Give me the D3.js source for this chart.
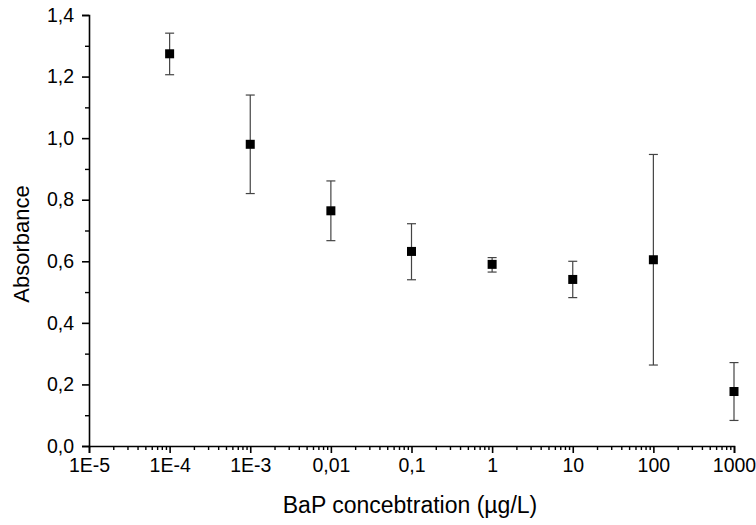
<!DOCTYPE html>
<html>
<head>
<meta charset="utf-8">
<script src="https://cdn.jsdelivr.net/npm/d3@7"></script>
<style>
  html, body { margin: 0; padding: 0; background: #fff; }
  svg { display: block; }
  text { font-family: "Liberation Sans", Arial, sans-serif; fill: #000; }
</style>
</head>
<body>
<svg id="chart" width="756" height="525"></svg>
<script>
// Data
const concentrations = [1e-4, 1e-3, 1e-2, 1e-1, 1, 10, 100, 1000];
const absorbance     = [1.274, 0.980, 0.764, 0.632, 0.590, 0.541, 0.605, 0.177];
const errUpper       = [1.341, 1.140, 0.861, 0.722, 0.612, 0.600, 0.947, 0.271];
const errLower       = [1.206, 0.820, 0.667, 0.540, 0.565, 0.482, 0.263, 0.083];
const xTickValues    = [1e-5, 1e-4, 1e-3, 1e-2, 1e-1, 1, 10, 100, 1000];
const xTickLabels    = ["1E-5", "1E-4", "1E-3", "0,01", "0,1", "1", "10", "100", "1000"];
const yTickValues    = [0, 0.2, 0.4, 0.6, 0.8, 1.0, 1.2, 1.4];
const yTickLabels    = ["0,0", "0,2", "0,4", "0,6", "0,8", "1,0", "1,2", "1,4"];
const yMinorValues   = [0.1, 0.3, 0.5, 0.7, 0.9, 1.1, 1.3];

const svg = d3.select("#chart");
const x = d3.scaleLog().domain([1e-5, 1000]).range([89, 734]);
const y = d3.scaleLinear().domain([0, 1.4]).range([446, 15]);

// minor x ticks
const xMinor = [];
for (let e = -5; e < 3; e++) {
  for (let m = 2; m <= 9; m++) xMinor.push(m * Math.pow(10, e));
}

const fontSize = 19.5;
const fam = '"Liberation Sans", Arial, sans-serif';

// X axis
const xAxis = d3.axisBottom(x).tickValues(xTickValues)
  .tickFormat((d, i) => xTickLabels[i]).tickSize(7).tickPadding(5);
const gx = svg.append("g").attr("transform", `translate(0,${y(0)})`)
  .attr("font-size", fontSize).attr("font-family", fam).call(xAxis);
gx.attr("font-size", fontSize).attr("font-family", fam);
gx.select(".domain").attr("stroke", "#000").attr("stroke-width", 1.6);
gx.selectAll(".tick line").attr("stroke", "#000").attr("stroke-width", 1.6);
gx.selectAll(".tick text").attr("font-size", fontSize);

const xAxisMinor = d3.axisBottom(x).tickValues(xMinor).tickFormat("").tickSize(4);
const gxm = svg.append("g").attr("transform", `translate(0,${y(0)})`).call(xAxisMinor);
gxm.select(".domain").remove();
gxm.selectAll(".tick line").attr("stroke", "#000").attr("stroke-width", 1.4);

// Y axis
const yAxis = d3.axisLeft(y).tickValues(yTickValues)
  .tickFormat((d, i) => yTickLabels[i]).tickSize(7).tickPadding(8);
const gy = svg.append("g").attr("transform", `translate(${x(1e-5)},0)`).call(yAxis);
gy.attr("font-size", fontSize).attr("font-family", fam);
gy.select(".domain").attr("stroke", "#000").attr("stroke-width", 1.6);
gy.selectAll(".tick line").attr("stroke", "#000").attr("stroke-width", 1.6);
gy.selectAll(".tick text").attr("font-size", fontSize);

const yAxisMinor = d3.axisLeft(y).tickValues(yMinorValues).tickFormat("").tickSize(4);
const gym = svg.append("g").attr("transform", `translate(${x(1e-5)},0)`).call(yAxisMinor);
gym.select(".domain").remove();
gym.selectAll(".tick line").attr("stroke", "#000").attr("stroke-width", 1.4);

// Axis labels
svg.append("text")
  .attr("x", 410).attr("y", 513)
  .attr("text-anchor", "middle")
  .attr("font-size", 23)
  .text("BaP concebtration (µg/L)");

svg.append("text")
  .attr("transform", `translate(29,244) rotate(-90)`)
  .attr("text-anchor", "middle")
  .attr("font-size", 22)
  .text("Absorbance");

// Error bars
const data = concentrations.map((c, i) => ({c, v: absorbance[i], hi: errUpper[i], lo: errLower[i]}));
const capW = 4.5;
const eb = svg.append("g").attr("stroke", "#444").attr("stroke-width", 1.2);
eb.selectAll("line.v").data(data).join("line").attr("class", "v")
  .attr("x1", d => x(d.c)).attr("x2", d => x(d.c))
  .attr("y1", d => y(d.hi)).attr("y2", d => y(d.lo));
eb.selectAll("line.t").data(data).join("line").attr("class", "t")
  .attr("x1", d => x(d.c) - capW).attr("x2", d => x(d.c) + capW)
  .attr("y1", d => y(d.hi)).attr("y2", d => y(d.hi));
eb.selectAll("line.b").data(data).join("line").attr("class", "b")
  .attr("x1", d => x(d.c) - capW).attr("x2", d => x(d.c) + capW)
  .attr("y1", d => y(d.lo)).attr("y2", d => y(d.lo));

// Markers
const ms = 9;
svg.append("g").selectAll("rect").data(data).join("rect")
  .attr("x", d => x(d.c) - ms / 2).attr("y", d => y(d.v) - ms / 2)
  .attr("width", ms).attr("height", ms)
  .attr("fill", "#000");
</script>
</body>
</html>
